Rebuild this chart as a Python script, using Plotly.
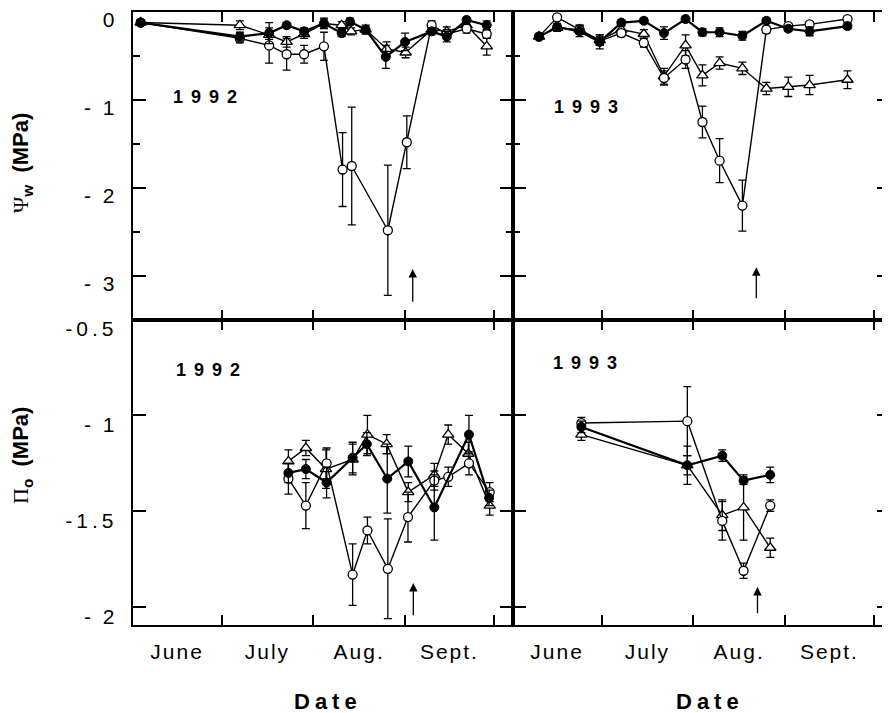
import plotly.graph_objects as go

# browser page adds an 8 px body margin: figure is drawn at (8, 8)
OFF = 8
W, H = 890 - OFF, 713 - OFF

# ---------------- data (x = days after 1 June) ----------------
MONTH_START = [30, 61, 92, 122]          # Jul 1, Aug 1, Sep 1, Oct 1
MONTH_MID = [15, 45.5, 76.5, 107]
MONTH_LABELS = ["June", "July", "Aug.", "Sept."]

PSI_TICKS = [0, -1, -2, -3]
PSI_TICKTEXT = ["0", "- 1", "- 2", "- 3"]
PSI_MINOR = [-0.5, -1.5, -2.5]
PI_TICKS = [-0.5, -1, -1.5, -2]
PI_TICKTEXT = ["-0.5", "- 1", "-1.5", "- 2"]

YEAR_LABELS = ["1992", "1993", "1992", "1993"]

# 1992, leaf water potential (MPa)
psi92_filled_x = [2.7, 36.2, 46.1, 52.0, 57.9, 64.6, 70.6, 73.4, 78.7, 85.5, 92.0, 101.0, 106.1, 112.8, 119.6]
psi92_filled_y = [-0.12, -0.28, -0.24, -0.15, -0.22, -0.13, -0.24, -0.11, -0.20, -0.51, -0.34, -0.22, -0.28, -0.09, -0.15]
psi92_filled_e = [0.03, 0.05, 0.12, 0.03, 0.04, 0.06, 0.04, 0.04, 0.05, 0.13, 0.10, 0.04, 0.06, 0.03, 0.05]

psi92_open_x = [2.7, 36.2, 46.1, 52.0, 57.9, 64.6, 70.9, 74.0, 86.2, 92.6, 101.0, 106.1, 112.8, 119.6]
psi92_open_y = [-0.12, -0.30, -0.38, -0.48, -0.48, -0.39, -1.79, -1.75, -2.48, -1.48, -0.15, -0.25, -0.19, -0.25]
psi92_open_e = [0.03, 0.05, 0.20, 0.18, 0.10, 0.16, 0.42, 0.67, 0.74, 0.30, 0.05, 0.05, 0.05, 0.05]

psi92_tri_x = [2.7, 36.2, 46.1, 52.0, 57.9, 64.6, 70.6, 73.8, 78.7, 85.8, 92.2, 101.0, 106.1, 112.8, 119.6]
psi92_tri_y = [-0.12, -0.15, -0.26, -0.34, -0.25, -0.13, -0.15, -0.22, -0.20, -0.42, -0.46, -0.20, -0.22, -0.15, -0.39]
psi92_tri_e = [0.03, 0.05, 0.05, 0.06, 0.05, 0.05, 0.04, 0.04, 0.04, 0.08, 0.06, 0.04, 0.05, 0.04, 0.10]

# 1993, leaf water potential (MPa)
psi93_x = [8.9, 15.0, 22.6, 29.4, 36.7, 44.3, 51.1, 58.4, 64.1, 69.9, 77.6, 85.7, 93.1, 100.3, 113.1]
psi93_filled_y = [-0.28, -0.17, -0.22, -0.34, -0.12, -0.10, -0.24, -0.08, -0.23, -0.23, -0.27, -0.10, -0.19, -0.22, -0.16]
psi93_filled_e = [0.03, 0.04, 0.06, 0.08, 0.03, 0.03, 0.07, 0.03, 0.04, 0.05, 0.05, 0.03, 0.03, 0.05, 0.03]
psi93_open_y = [-0.28, -0.06, -0.20, -0.33, -0.24, -0.35, -0.75, -0.54, -1.25, -1.69, -2.20, -0.20, -0.16, -0.14, -0.08]
psi93_open_e = [0.03, 0.03, 0.05, 0.05, 0.04, 0.05, 0.08, 0.10, 0.18, 0.25, 0.29, 0.04, 0.03, 0.03, 0.03]
psi93_tri_y = [-0.28, -0.18, -0.20, -0.32, -0.20, -0.25, -0.73, -0.38, -0.72, -0.58, -0.64, -0.87, -0.85, -0.83, -0.77]
psi93_tri_e = [0.03, 0.04, 0.05, 0.06, 0.04, 0.05, 0.09, 0.12, 0.12, 0.07, 0.07, 0.07, 0.11, 0.11, 0.10]

# 1992, osmotic potential (MPa)
pi92_filled_x = [52.6, 58.5, 65.5, 74.3, 79.1, 86.0, 93.1, 101.9, 113.6, 120.4]
pi92_filled_y = [-1.30, -1.28, -1.35, -1.22, -1.15, -1.33, -1.24, -1.48, -1.10, -1.43]
pi92_filled_e = [0.05, 0.05, 0.08, 0.08, 0.06, 0.18, 0.08, 0.17, 0.10, 0.04]

pi92_open_x = [52.6, 58.5, 65.5, 74.3, 79.3, 86.2, 93.0, 101.9, 106.6, 113.6, 120.6]
pi92_open_y = [-1.33, -1.47, -1.25, -1.83, -1.60, -1.80, -1.53, -1.34, -1.32, -1.25, -1.40]
pi92_open_e = [0.08, 0.12, 0.08, 0.16, 0.07, 0.26, 0.13, 0.05, 0.05, 0.06, 0.05]

pi92_tri_x = [52.6, 58.5, 65.3, 74.3, 79.3, 85.8, 93.1, 101.9, 106.6, 113.4, 120.6]
pi92_tri_y = [-1.24, -1.17, -1.28, -1.23, -1.10, -1.15, -1.40, -1.31, -1.10, -1.20, -1.47]
pi92_tri_e = [0.06, 0.04, 0.10, 0.08, 0.10, 0.05, 0.05, 0.06, 0.05, 0.06, 0.05]

# 1993, osmotic potential (MPa)
pi93_x = [23.2, 59.0, 70.8, 78.0, 87.0]
pi93_filled_y = [-1.06, -1.26, -1.21, -1.34, -1.31]
pi93_filled_e = [0.03, 0.05, 0.03, 0.02, 0.04]
pi93_open_y = [-1.04, -1.03, -1.55, -1.81, -1.47]
pi93_open_e = [0.03, 0.18, 0.10, 0.04, 0.03]
pi93_tri_y = [-1.10, -1.26, -1.52, -1.48, -1.69]
pi93_tri_e = [0.03, 0.10, 0.08, 0.17, 0.05]

# arrows (x, head y, tail y) per panel: TL, TR, BL, BR
arrow_x = [94.6, 82.3, 94.8, 82.7]
arrow_head = [-2.92, -2.90, -1.874, -1.895]
arrow_tail = [-3.31, -3.27, -2.05, -2.04]

# ---------------- layout geometry (reference pixel -> paper) ----------------
FONT = "Liberation Sans, Arial, Helvetica, sans-serif"


def PX(x):
    return (x - OFF) / W


def PY(y):
    return 1 - (y - OFF) / H


X_L = [PX(132.7), PX(512.7)]
X_R = [PX(512.7), 1.0]
Y_T = [PY(319.5), PY(12)]
Y_B = [PY(625), PY(319.5)]
XR_L = [0, 380 / 2.96]
XR_R = [0, 377.3 / 2.96]
YR_T = [-307.5 / 88, 0]
YR_B = [-0.5 - 305.5 / 191.8, -0.5]


def ls(t, px):
    return f'<span style="letter-spacing:{px}px">{t}</span>'


fig = go.Figure()


def add_series(x, y, e, kind, xa, ya):
    if kind == "filled":
        marker = dict(symbol="circle", size=9, color="black", line=dict(color="black", width=1))
        lw = 2.2
    elif kind == "open":
        marker = dict(symbol="circle", size=9, color="white", line=dict(color="black", width=1.3))
        lw = 1.4
    else:
        marker = dict(symbol="triangle-up", size=10, color="white", line=dict(color="black", width=1.3))
        lw = 1.4
    fig.add_trace(go.Scatter(
        x=x, y=y, mode="lines+markers", xaxis=xa, yaxis=ya,
        line=dict(color="black", width=lw), marker=marker,
        error_y=dict(type="data", array=e, visible=True, color="black", thickness=1.3, width=4),
        showlegend=False, hoverinfo="skip"))


add_series(psi92_tri_x, psi92_tri_y, psi92_tri_e, "tri", "x", "y")
add_series(psi92_open_x, psi92_open_y, psi92_open_e, "open", "x", "y")
add_series(psi92_filled_x, psi92_filled_y, psi92_filled_e, "filled", "x", "y")

add_series(psi93_x, psi93_tri_y, psi93_tri_e, "tri", "x2", "y2")
add_series(psi93_x, psi93_open_y, psi93_open_e, "open", "x2", "y2")
add_series(psi93_x, psi93_filled_y, psi93_filled_e, "filled", "x2", "y2")

add_series(pi92_tri_x, pi92_tri_y, pi92_tri_e, "tri", "x3", "y3")
add_series(pi92_open_x, pi92_open_y, pi92_open_e, "open", "x3", "y3")
add_series(pi92_filled_x, pi92_filled_y, pi92_filled_e, "filled", "x3", "y3")

add_series(pi93_x, pi93_tri_y, pi93_tri_e, "tri", "x4", "y4")
add_series(pi93_x, pi93_open_y, pi93_open_e, "open", "x4", "y4")
add_series(pi93_x, pi93_filled_y, pi93_filled_e, "filled", "x4", "y4")

common = dict(showline=True, linecolor="black", linewidth=2, mirror="ticks",
              showgrid=False, zeroline=False, ticks="inside", tickcolor="black",
              automargin=False, ticklabeloverflow="allow",
              tickwidth=2, tickfont=dict(family=FONT, size=21, color="black"))


def xaxis(domain, rng, anchor, labels):
    d = dict(common, domain=domain, range=rng, anchor=anchor)
    if labels:
        d.update(tickmode="array", tickvals=MONTH_MID,
                 ticktext=[ls(t, 2) for t in MONTH_LABELS], ticks="", ticklen=0,
                 showticklabels=True, ticklabelstandoff=7,
                 minor=dict(tickmode="array", tickvals=MONTH_START, ticks="inside",
                            ticklen=10, tickwidth=2, tickcolor="black"))
    else:
        d.update(tickmode="array", tickvals=MONTH_START, ticklen=10, showticklabels=False)
    return d


def ytext(t):
    return ls(t, 4 if "." in t else 3)


def yaxis(domain, rng, anchor, psi, labels):
    d = dict(common, domain=domain, range=rng, anchor=anchor, ticklen=13,
             showticklabels=labels, ticklabelstandoff=9)
    if psi:
        d.update(tickmode="array", tickvals=PSI_TICKS, ticktext=[ytext(t) for t in PSI_TICKTEXT],
                 ticklabelshift=8,
                 minor=dict(tickmode="array", tickvals=PSI_MINOR, ticks="inside",
                            ticklen=7, tickwidth=2, tickcolor="black"))
    else:
        d.update(tickmode="array", tickvals=PI_TICKS, ticktext=[ytext(t) for t in PI_TICKTEXT],
                 ticklabelshift=9)
    return d


annotations = []
# year labels
for txt, (px, py) in zip(YEAR_LABELS, [(205, 96.5), (586, 106.5), (208, 369.5), (585, 363)]):
    annotations.append(dict(text="<b>" + ls(txt, 8) + "</b>", x=PX(px + 4), y=PY(py),
                            xref="paper", yref="paper", showarrow=False,
                            xanchor="center", yanchor="middle",
                            font=dict(family=FONT, size=18, color="black")))
# arrows
for (xa, ya), axx, hy, ty in zip([("x", "y"), ("x2", "y2"), ("x3", "y3"), ("x4", "y4")],
                                 arrow_x, arrow_head, arrow_tail):
    annotations.append(dict(x=axx, y=hy, ax=axx, ay=ty, xref=xa, yref=ya, axref=xa, ayref=ya,
                            text="", showarrow=True, arrowhead=2, arrowsize=1.3,
                            arrowwidth=1.3, arrowcolor="black"))
# x titles
for px in (325, 707):
    annotations.append(dict(text="<b>" + ls("Date", 5) + "</b>", x=PX(px + 2.5), y=PY(701),
                            xref="paper", yref="paper", showarrow=False,
                            xanchor="center", yanchor="middle",
                            font=dict(family=FONT, size=22, color="black")))
# y titles
annotations.append(dict(
    text='<span style="font-family:Liberation Serif">Ψ</span><sub><b>w</b></sub>\u00a0\u00a0<b>(MPa)</b>',
    x=PX(22), y=PY(163), xref="paper", yref="paper", showarrow=False,
    textangle=-90, xanchor="center", yanchor="middle", borderpad=0,
    font=dict(family=FONT, size=22, color="black")))
annotations.append(dict(
    text='<span style="font-family:Liberation Serif">Π</span><sub><b>o</b></sub>\u00a0\u00a0<b>(MPa)</b>',
    x=PX(22), y=PY(456), xref="paper", yref="paper", showarrow=False,
    textangle=-90, xanchor="center", yanchor="middle", borderpad=0,
    font=dict(family=FONT, size=22, color="black")))

fig.update_layout(
    template="none",
    width=W, height=H, margin=dict(l=0, r=0, t=0, b=0, autoexpand=False),
    paper_bgcolor="white", plot_bgcolor="white",
    font=dict(family=FONT, color="black"),
    xaxis=xaxis(X_L, XR_L, "y", False),
    xaxis2=xaxis(X_R, XR_R, "y2", False),
    xaxis3=xaxis(X_L, XR_L, "y3", True),
    xaxis4=xaxis(X_R, XR_R, "y4", True),
    yaxis=yaxis(Y_T, YR_T, "x", True, True),
    yaxis2=yaxis(Y_T, YR_T, "x2", True, False),
    yaxis3=yaxis(Y_B, YR_B, "x3", False, True),
    yaxis4=yaxis(Y_B, YR_B, "x4", False, False),
    annotations=annotations,
)

fig.write_html("out.html")
